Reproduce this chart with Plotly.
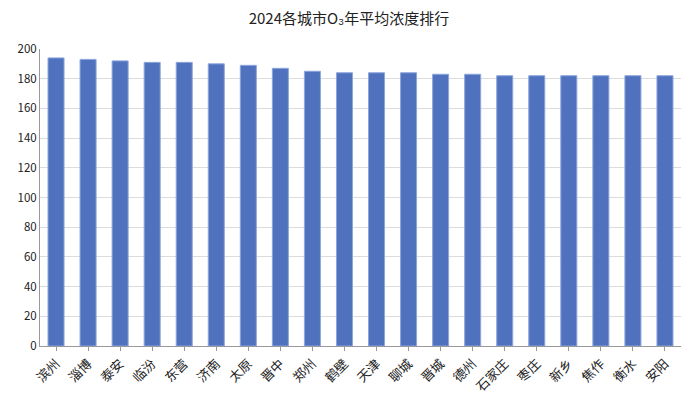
import plotly.graph_objects as go

cities = ["滨州", "淄博", "泰安", "临汾", "东营", "济南", "太原", "晋中", "郑州", "鹤壁",
          "天津", "聊城", "晋城", "德州", "石家庄", "枣庄", "新乡", "焦作", "衡水", "安阳"]
values = [194, 193, 192, 191, 191, 190, 189, 187, 185, 184,
          184, 184, 183, 183, 182, 182, 182, 182, 182, 182]
y_ticks = list(range(0, 201, 20))

fig = go.Figure(go.Bar(
    x=cities, y=values,
    marker=dict(color="#4f71be", line=dict(color="#8ea6dc", width=1)),
))
fig.update_layout(
    width=698, height=412,
    margin=dict(l=32, r=25, t=41, b=74),
    paper_bgcolor="white", plot_bgcolor="white",
    font=dict(family="Noto Sans CJK SC, sans-serif", size=11, color="#222"),
    title=dict(text="2024各城市O₃年平均浓度排行", x=0.4885, xanchor="center",
               y=0.975, yanchor="middle", font=dict(size=15, color="#222")),
    bargap=0.5,
    showlegend=False,
)
fig.update_xaxes(showline=True, linecolor="#999", ticks="outside", tickcolor="#999",
                 ticklen=4, tickangle=-45, tickfont=dict(size=13), automargin=False)
fig.update_yaxes(range=[0, 200], tickvals=y_ticks, showline=True, linecolor="#999",
                 gridcolor="#dcdcdc", ticks="", zeroline=False, tickfont=dict(size=11.5),
                 automargin=False)
fig.write_html("out.html")
